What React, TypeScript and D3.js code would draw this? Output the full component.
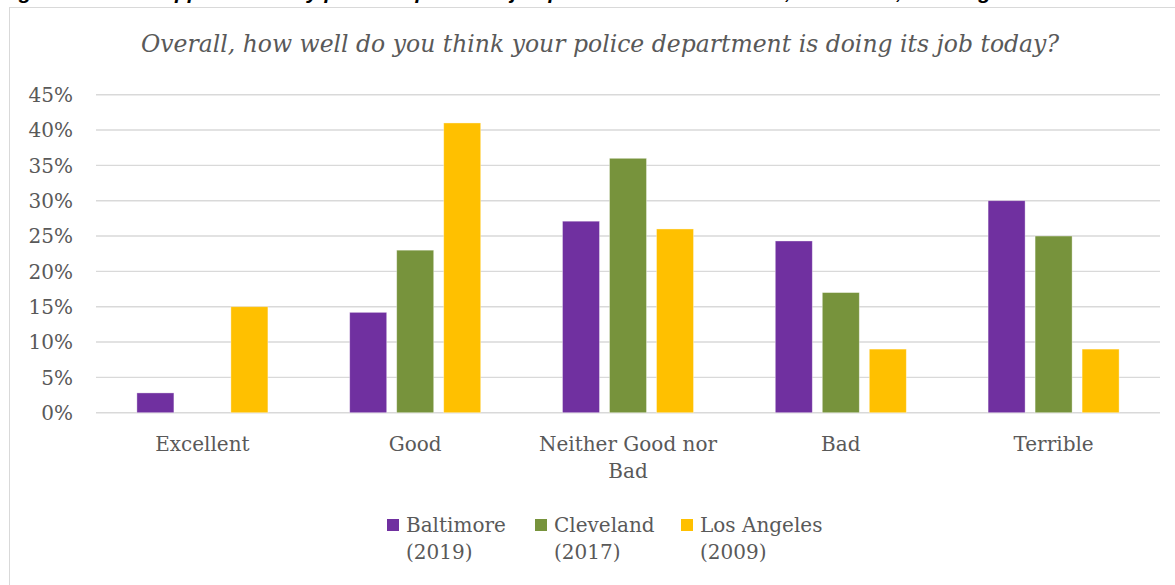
import React from "react";
import * as d3 from "d3";

const categories = ["Excellent", "Good", "Neither Good nor Bad", "Bad", "Terrible"];
const categoryLines = [["Excellent"], ["Good"], ["Neither Good nor", "Bad"], ["Bad"], ["Terrible"]];
const seriesNames = ["Baltimore (2019)", "Cleveland (2017)", "Los Angeles (2009)"];
const seriesLines = [["Baltimore", "(2019)"], ["Cleveland", "(2017)"], ["Los Angeles", "(2009)"]];
const baltimore = [0.028, 0.142, 0.271, 0.243, 0.30];
const cleveland = [0, 0.23, 0.36, 0.17, 0.25];
const losAngeles = [0.15, 0.41, 0.26, 0.09, 0.09];
const yTicks = [0, 0.05, 0.1, 0.15, 0.2, 0.25, 0.3, 0.35, 0.4, 0.45];
const colors = ["#7030A0", "#77933C", "#FFC000"];
const chartTitle = "Overall, how well do you think your police department is doing its job today?";
const figureCaption = "Figure 4: Public approval of city police department job performance: Baltimore, Cleveland, Los Angeles";

export default function App() {
  const W = 1175, H = 585;
  const x0 = d3.scaleBand<string>().domain(categories).range([96, 1160]);
  const x1 = d3.scaleBand<string>().domain(seriesNames).range([0, x0.bandwidth()]).paddingInner(0.2128).paddingOuter(0.87);
  const y = d3.scaleLinear().domain([0, 0.45]).range([412.7, 94.7]);
  const values = [baltimore, cleveland, losAngeles];
  const fmt = d3.format(".0%");
  const font = "'DejaVu Serif', serif";
  const grey = "#595959";
  const legendX = [387, 535, 681];

  return (
    <svg width={W} height={H} style={{ position: "absolute", left: 0, top: 0, background: "#fff" }} fontFamily={font}>
      <text x={0} y={-1} fontFamily="'Liberation Sans', sans-serif" fontStyle="italic" fontWeight="bold" fontSize={21} fill="#000">{figureCaption}</text>
      <rect x={9.5} y={7.5} width={1200} height={600} fill="#fff" stroke="#d9d9d9" strokeWidth={1} />
      <text x={600} y={52} textAnchor="middle" fontStyle="italic" fontSize={23.5} fill={grey}>{chartTitle}</text>
      {yTicks.map((t) => (
        <g key={t}>
          <line x1={96} x2={1160} y1={y(t)} y2={y(t)} stroke="#d9d9d9" strokeWidth={1.4} />
          <text x={73} y={y(t)} dy="0.36em" textAnchor="end" fontSize={20} fill={grey}>{fmt(t)}</text>
        </g>
      ))}
      {values.map((vals, si) => (
        <g key={si}>
          {categories.map((c, ci) => vals[ci] > 0 ? (
            <rect key={c} x={(x0(c) ?? 0) + (x1(seriesNames[si]) ?? 0)} y={y(vals[ci])} width={x1.bandwidth()} height={y(0) - y(vals[ci])}
              fill={colors[si]} stroke="#ffffff" strokeOpacity={0.45} strokeWidth={0.8} />
          ) : null)}
        </g>
      ))}
      {categories.map((c, ci) => (
        <text key={c} x={(x0(c) ?? 0) + x0.bandwidth() / 2} y={451} textAnchor="middle" fontSize={20} fill={grey}>
          {categoryLines[ci].map((l, li) => (
            <tspan key={li} x={(x0(c) ?? 0) + x0.bandwidth() / 2} dy={li === 0 ? 0 : 27}>{l}</tspan>
          ))}
        </text>
      ))}
      {seriesNames.map((s, si) => (
        <g key={s}>
          <rect x={legendX[si]} y={519} width={12} height={12} fill={colors[si]} />
          <text x={legendX[si] + 19} y={532} fontSize={20} fill={grey}>
            {seriesLines[si].map((l, li) => (
              <tspan key={li} x={legendX[si] + 19} dy={li === 0 ? 0 : 27}>{l}</tspan>
            ))}
          </text>
        </g>
      ))}
    </svg>
  );
}
